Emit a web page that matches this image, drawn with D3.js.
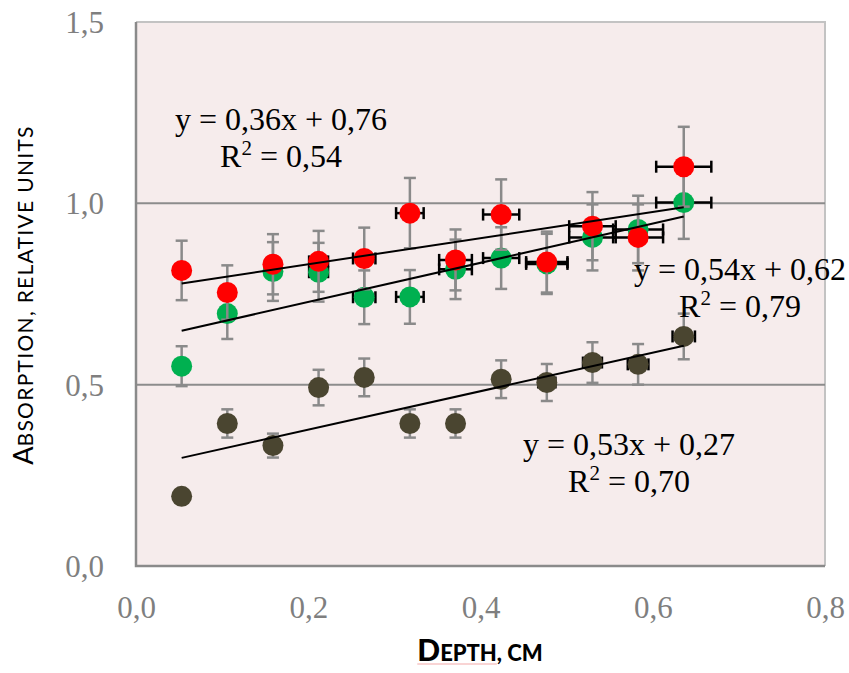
<!DOCTYPE html>
<html>
<head>
<meta charset="utf-8">
<script src="https://cdn.jsdelivr.net/npm/d3@7"></script>
<style>
  body { margin: 0; background: #ffffff; }
  svg { display: block; }
</style>
</head>
<body>
<svg id="chart" width="849" height="673"></svg>
<script>
// Depth of each measurement, cm
const depth = [0.053, 0.106, 0.159, 0.212, 0.265, 0.318, 0.371, 0.424, 0.477, 0.530, 0.583, 0.636];

// Absorption per series, relative units
const redValues   = [0.815, 0.754, 0.832, 0.840, 0.848, 0.973, 0.844, 0.969, 0.838, 0.937, 0.906, 1.101];
const greenValues = [0.551, 0.696, 0.812, 0.810, 0.741, 0.742, 0.818, 0.849, 0.833, 0.906, 0.928, 1.002];
const darkValues  = [0.192, 0.393, 0.332, 0.492, 0.520, 0.393, 0.393, 0.515, 0.506, 0.561, 0.556, 0.633];

// Vertical (absorption) error half-widths
const redErrY   = [0.082, 0.075, 0.083, 0.084, 0.085, 0.097, 0.084, 0.097, 0.084, 0.094, 0.091, 0.110];
const greenErrY = [0.055, 0.070, 0.081, 0.081, 0.074, 0.074, 0.082, 0.085, 0.083, 0.091, 0.093, 0.100];
const darkErrY  = [0.019, 0.039, 0.033, 0.049, 0.052, 0.039, 0.039, 0.052, 0.051, 0.056, 0.056, 0.063];

// Horizontal (depth) error half-widths
const redErrX   = [0.003, 0.005, 0.008, 0.011, 0.013, 0.016, 0.019, 0.021, 0.024, 0.027, 0.029, 0.032];
const greenErrX = [0.003, 0.005, 0.008, 0.011, 0.013, 0.016, 0.019, 0.021, 0.024, 0.027, 0.029, 0.032];
const darkErrX  = [0.001, 0.002, 0.003, 0.004, 0.005, 0.006, 0.007, 0.008, 0.010, 0.011, 0.012, 0.013];

// Linear trend lines: slope, intercept, R²
const trendSlope     = [0.36, 0.54, 0.53];
const trendIntercept = [0.76, 0.62, 0.27];
const trendR2        = [0.54, 0.79, 0.70];

// Axis ticks
const xTicks = [0.0, 0.2, 0.4, 0.6, 0.8];
const yTicks = [0.0, 0.5, 1.0, 1.5];

const yTitleCap = "A";
const yTitleRest = "BSORPTION, RELATIVE UNITS";
const xTitleCap = "D";
const xTitleRest1 = "EPTH";
const xTitleRest2 = ", CM";

const series = [
  { name: "dark",  values: darkValues,  errY: darkErrY,  errX: darkErrX,  color: "#4a4530", trend: 2, label: { cx: 629, by: 455 } },
  { name: "green", values: greenValues, errY: greenErrY, errX: greenErrX, color: "#00b050", trend: 1, label: { cx: 740, by: 280 } },
  { name: "red",   values: redValues,   errY: redErrY,   errX: redErrX,   color: "#ff0000", trend: 0, label: { cx: 281, by: 130 } }
];

const svg = d3.select("#chart");
const plot = { left: 136, right: 825, top: 22, bottom: 566 };

const x = d3.scaleLinear().domain([0, 0.8]).range([plot.left, plot.right]);
const y = d3.scaleLinear().domain([0, 1.5]).range([plot.bottom, plot.top]);

const fmt = d => d.toFixed(1).replace(".", ",");
const fmt2 = d => d.toFixed(2).replace(".", ",");

// Plot background
svg.append("rect")
  .attr("x", plot.left).attr("y", plot.top)
  .attr("width", plot.right - plot.left).attr("height", plot.bottom - plot.top)
  .attr("fill", "#f6ecec");

// Light outer frame (top and right)
svg.append("path")
  .attr("d", `M${plot.left},${plot.top}H${plot.right}V${plot.bottom}`)
  .attr("fill", "none").attr("stroke", "#c3c3c3").attr("stroke-width", 2);

// Horizontal gridlines
svg.append("g").selectAll("line")
  .data(yTicks.filter(v => v > 0 && v < 1.5))
  .join("line")
  .attr("x1", plot.left).attr("x2", plot.right)
  .attr("y1", d => y(d)).attr("y2", d => y(d))
  .attr("stroke", "#8c8c8c").attr("stroke-width", 2);

// Axes
const xAxis = svg.append("g")
  .attr("transform", `translate(0,${plot.bottom})`)
  .call(d3.axisBottom(x).tickValues(xTicks).tickFormat(fmt).tickSize(0));
xAxis.select(".domain").remove();
xAxis.selectAll("text")
  .attr("y", 52).attr("dy", null)
  .attr("font-family", "'Liberation Serif', serif")
  .attr("font-size", 31)
  .attr("fill", "#7f7f7f");

const yAxis = svg.append("g")
  .attr("transform", `translate(${plot.left},0)`)
  .call(d3.axisLeft(y).tickValues(yTicks).tickFormat(fmt).tickSize(0).tickPadding(32));
yAxis.select(".domain").remove();
yAxis.selectAll("text")
  .attr("font-family", "'Liberation Serif', serif")
  .attr("font-size", 31)
  .attr("dy", "0.34em")
  .attr("fill", "#7f7f7f");

// Axis lines (left and bottom)
svg.append("path")
  .attr("d", `M${plot.left},${plot.top}V${plot.bottom}H${plot.right}`)
  .attr("fill", "none").attr("stroke", "#8a8a8a").attr("stroke-width", 2.5);

// Error bars and markers, one series at a time
const capV = 6, capH = 6, r = 10.5;
series.forEach(s => {
  const pts = depth.map((d, i) => ({ x: d, y: s.values[i], ey: s.errY[i], ex: s.errX[i] }));
  const g = svg.append("g").attr("class", "series-" + s.name);

  const vb = g.append("g").attr("stroke", "#8a8a8a").attr("stroke-width", 2.5);
  vb.selectAll("line.v").data(pts).join("line").attr("class", "v")
    .attr("x1", d => x(d.x)).attr("x2", d => x(d.x))
    .attr("y1", d => y(d.y - d.ey)).attr("y2", d => y(d.y + d.ey));
  vb.selectAll("line.ct").data(pts).join("line").attr("class", "ct")
    .attr("x1", d => x(d.x) - capV).attr("x2", d => x(d.x) + capV)
    .attr("y1", d => y(d.y + d.ey)).attr("y2", d => y(d.y + d.ey));
  vb.selectAll("line.cb").data(pts).join("line").attr("class", "cb")
    .attr("x1", d => x(d.x) - capV).attr("x2", d => x(d.x) + capV)
    .attr("y1", d => y(d.y - d.ey)).attr("y2", d => y(d.y - d.ey));

  const hb = g.append("g").attr("stroke", "#000000").attr("stroke-width", 2.5);
  hb.selectAll("line.h").data(pts).join("line").attr("class", "h")
    .attr("x1", d => x(d.x - d.ex)).attr("x2", d => x(d.x + d.ex))
    .attr("y1", d => y(d.y)).attr("y2", d => y(d.y));
  hb.selectAll("line.cl").data(pts).join("line").attr("class", "cl")
    .attr("x1", d => x(d.x - d.ex)).attr("x2", d => x(d.x - d.ex))
    .attr("y1", d => y(d.y) - capH).attr("y2", d => y(d.y) + capH);
  hb.selectAll("line.cr").data(pts).join("line").attr("class", "cr")
    .attr("x1", d => x(d.x + d.ex)).attr("x2", d => x(d.x + d.ex))
    .attr("y1", d => y(d.y) - capH).attr("y2", d => y(d.y) + capH);

  g.selectAll("circle").data(pts).join("circle")
    .attr("cx", d => x(d.x)).attr("cy", d => y(d.y)).attr("r", r)
    .attr("fill", s.color);
});

// Trend lines over the data range
const x0 = d3.min(depth), x1 = d3.max(depth);
svg.append("g").selectAll("line")
  .data(trendSlope.map((k, i) => ({ k, b: trendIntercept[i] })))
  .join("line")
  .attr("x1", x(x0)).attr("x2", x(x1))
  .attr("y1", d => y(d.k * x0 + d.b)).attr("y2", d => y(d.k * x1 + d.b))
  .attr("stroke", "#000000").attr("stroke-width", 2);

// Trend equations
series.forEach(s => {
  const t = s.trend;
  const lbl = svg.append("text")
    .attr("font-family", "'Liberation Serif', serif")
    .attr("font-size", 32)
    .attr("fill", "#000000")
    .attr("text-anchor", "middle");
  lbl.append("tspan")
    .attr("x", s.label.cx).attr("y", s.label.by)
    .text(`y = ${fmt2(trendSlope[t])}x + ${fmt2(trendIntercept[t])}`);
  const l2 = lbl.append("tspan").attr("x", s.label.cx).attr("y", s.label.by + 37);
  l2.append("tspan").text("R");
  l2.append("tspan").attr("font-size", 21).attr("dy", -12).text("2");
  l2.append("tspan").attr("dy", 12).text(` = ${fmt2(trendR2[t])}`);
});

// Y axis title (small caps)
const yTitle = svg.append("text")
  .attr("transform", "translate(33,295) rotate(-90)")
  .attr("text-anchor", "middle")
  .attr("font-family", "Lato, 'Open Sans', sans-serif")
  .attr("font-size", 27)
  .attr("fill", "#000000");
yTitle.append("tspan").text(yTitleCap);
yTitle.append("tspan").attr("font-size", 21).attr("letter-spacing", 1.3).text(yTitleRest);

// X axis title (bold small caps)
const xTitle = svg.append("text")
  .attr("x", 480).attr("y", 661)
  .attr("text-anchor", "middle")
  .attr("font-family", "Lato, 'Open Sans', sans-serif")
  .attr("font-weight", 900)
  .attr("font-size", 30)
  .attr("fill", "#000000");
xTitle.append("tspan").text(xTitleCap);
xTitle.append("tspan").attr("font-size", 22).text(xTitleRest1);
xTitle.append("tspan").attr("font-size", 22).text(xTitleRest2);

// Thin pink underline beneath the first word of the x title
const bb = xTitle.node().getBBox();
const firstWordEnd = bb.x + xTitle.node().getSubStringLength(0, 1 + xTitleRest1.length);
svg.append("line")
  .attr("x1", bb.x).attr("x2", firstWordEnd)
  .attr("y1", 664).attr("y2", 664)
  .attr("stroke", "#f2a9a9").attr("stroke-width", 1);
</script>
</body>
</html>
